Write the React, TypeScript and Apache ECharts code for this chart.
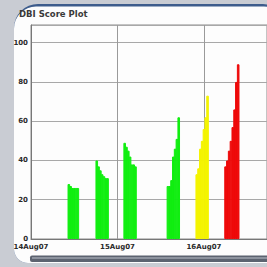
import React, { useEffect, useRef } from "react";
import * as echarts from "echarts";

// Sample times (hours since 14Aug07 00:00) and DBI scores
const green1Hours = [10.5, 11.0, 11.5, 12.0, 12.5, 13.0];
const green1Scores = [28, 27, 26, 26, 26, 26];
const green2Hours = [18.25, 18.75, 19.25, 19.75, 20.25, 20.75, 21.25];
const green2Scores = [40, 37, 35, 33, 32, 31, 31];
const green3Hours = [26.0, 26.5, 27.0, 27.5, 28.0, 28.5, 29.0];
const green3Scores = [49, 47, 45, 42, 38, 38, 37];
const green4Hours = [38.0, 38.5, 39.0, 39.5, 40.0, 40.5, 41.0];
const green4Scores = [27, 27, 30, 42, 46, 51, 62];
const yellowHours = [46.0, 46.5, 47.0, 47.5, 48.0, 48.5, 49.0];
const yellowScores = [33, 36, 46, 50, 56, 62, 73];
const redHours = [54.0, 54.5, 55.0, 55.5, 56.0, 56.5, 57.0, 57.5];
const redScores = [37, 40, 45, 50, 57, 66, 80, 89];

const xTickHours = [0, 24, 48];
const xTickLabels = ["14Aug07", "15Aug07", "16Aug07"];
const yTickValues = [0, 20, 40, 60, 80, 100];

const title = "DBI Score Plot";

function pairs(hours: number[], scores: number[]) {
  return hours.map((h, i) => [h, scores[i]]);
}

export default function App() {
  const ref = useRef<HTMLDivElement>(null);
  useEffect(() => {
    if (!ref.current) return;
    const chart = echarts.init(ref.current, null, { renderer: "svg" });
    const greenData = [
      ...pairs(green1Hours, green1Scores),
      ...pairs(green2Hours, green2Scores),
      ...pairs(green3Hours, green3Scores),
      ...pairs(green4Hours, green4Scores),
    ];
    const bar = (name: string, data: number[][], color: string) => ({
      name,
      type: "bar",
      data,
      barWidth: 2.6,
      barGap: "-100%",
      itemStyle: { color, borderColor: color, borderWidth: 1 },
      z: 3,
    });
    chart.setOption({
      animation: false,
      backgroundColor: "#c9ccd3",
      graphic: [
        {
          type: "rect",
          z: -20,
          shape: { x: 14, y: 4, width: 262, height: 259, r: [24, 13, 0, 14] },
          style: { fill: "#3d5c8c" },
        },
        {
          type: "rect",
          z: -19,
          shape: { x: 14, y: 6.5, width: 262, height: 256.5, r: [22, 12, 0, 14] },
          style: { fill: "#fdfdfd" },
        },
        {
          type: "text",
          z: 10,
          x: 19,
          y: 9,
          style: {
            text: title,
            fill: "#3a3a3a",
            font: "bold 8.5px 'DejaVu Sans', sans-serif",
          },
        },
        {
          type: "rect",
          z: 10,
          shape: { x: 30, y: 255.5, width: 240, height: 6.5, r: [2, 0, 0, 2] },
          style: { fill: "#5c6370" },
        },
        {
          type: "rect",
          z: 11,
          shape: { x: 32, y: 257, width: 236, height: 2 },
          style: { fill: "#8d939e" },
        },
      ],
      grid: {
        left: 31,
        top: 25,
        right: -4,
        bottom: 28,
        show: true,
        borderColor: "#8a8a8a",
        borderWidth: 1,
        backgroundColor: "transparent",
      },
      xAxis: {
        type: "value",
        min: 0,
        max: 65.5,
        interval: 24,
        axisLine: { show: true, lineStyle: { color: "#777", width: 1 } },
        axisTick: { show: false },
        splitLine: { show: true, lineStyle: { color: "#9a9a9a", width: 1 } },
        axisLabel: {
          color: "#2a2a2a",
          fontSize: 7,
          fontWeight: "bold",
          fontFamily: "'DejaVu Sans', sans-serif",
          margin: 4,
          showMaxLabel: false,
          formatter: (v: number) => {
            const i = xTickHours.indexOf(v);
            return i >= 0 ? xTickLabels[i] : "";
          },
        },
      },
      yAxis: {
        type: "value",
        min: 0,
        max: 109,
        interval: 20,
        axisLine: { show: true, lineStyle: { color: "#777", width: 1 } },
        axisTick: { show: false },
        splitLine: { show: true, lineStyle: { color: "#a8a8a8", width: 1 } },
        axisLabel: {
          color: "#2a2a2a",
          fontSize: 7,
          fontWeight: "bold",
          fontFamily: "'DejaVu Sans', sans-serif",
          margin: 3,
          formatter: (v: number) => (yTickValues.indexOf(v) >= 0 ? String(v) : ""),
        },
      },
      series: [
        bar("green", greenData, "#11ee11"),
        bar("yellow", pairs(yellowHours, yellowScores), "#f4f400"),
        bar("red", pairs(redHours, redScores), "#ee0a0a"),
      ],
    });
    return () => chart.dispose();
  }, []);
  return (
    <div
      ref={ref}
      style={{ position: "fixed", left: 0, top: 0, width: 267, height: 267 }}
    />
  );
}
